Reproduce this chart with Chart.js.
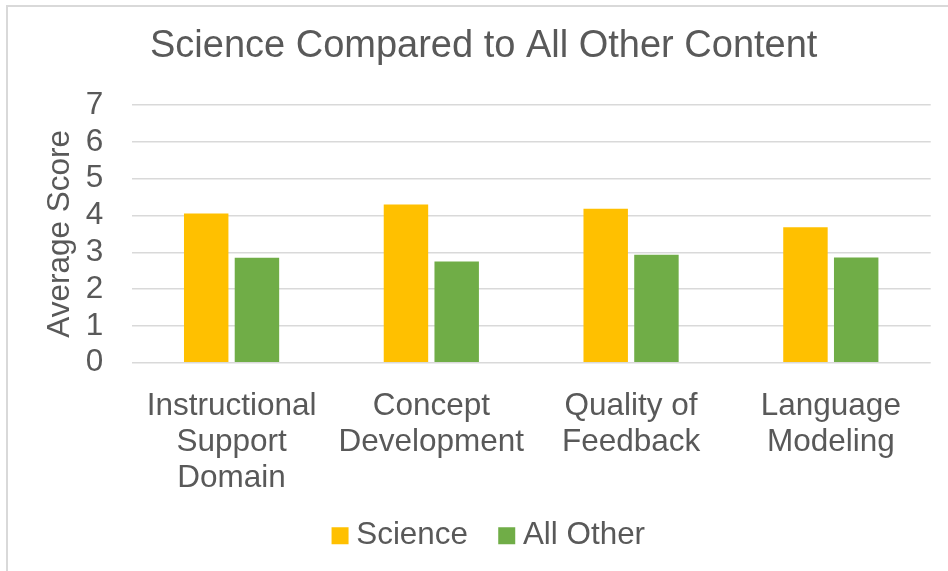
<!DOCTYPE html>
<html>
<head>
<meta charset="utf-8">
<title>Science Compared to All Other Content</title>
<script src="https://cdn.jsdelivr.net/npm/chart.js@4"></script>
<style>
  html, body { margin: 0; padding: 0; background: #fff; overflow: hidden; }
  #wrap { position: relative; width: 948px; height: 571px; }
  /* viền khung biểu đồ (chỉ thấy cạnh trái và cạnh trên) */
  #frame { position: absolute; left: 6px; top: 5px; width: 1000px; height: 1000px;
           border-left: 2px solid #d9d9d9; border-top: 2px solid #d9d9d9; }
  #chartBox { position: absolute; left: 0; top: 0; width: 948px; height: 571px; }
</style>
</head>
<body>
<div id="wrap">
  <div id="frame"></div>
  <div id="chartBox"><canvas id="scoreChart"></canvas></div>
</div>
<script>
// Dữ liệu
const categories = [
  ['Instructional', 'Support', 'Domain'],
  ['Concept', 'Development'],
  ['Quality of', 'Feedback'],
  ['Language', 'Modeling']
];
const scienceScores = [4.05, 4.30, 4.18, 3.68];
const allOtherScores = [2.85, 2.75, 2.93, 2.86];
const yTicks = [0, 1, 2, 3, 4, 5, 6, 7];

const textColor = '#595959';
const gridColor = '#d9d9d9';
const fontFamily = '"Liberation Sans", Arial, sans-serif';

// Dịch chú thích sang phải một chút cho khớp vị trí trong hình gốc
const legendNudge = {
  id: 'legendNudge',
  afterLayout(chart) {
    if (!chart.legend) return;
    chart.legend.left += 8.6;
    chart.legend.right += 8.6;
  }
};

const ctx = document.getElementById('scoreChart').getContext('2d');
new Chart(ctx, {
  type: 'bar',
  data: {
    labels: categories,
    datasets: [
      {
        label: 'Science',
        data: scienceScores,
        backgroundColor: '#FFC000',
        borderWidth: 0,
        categoryPercentage: 0.508,
        barPercentage: 0.876
      },
      {
        label: 'All Other',
        data: allOtherScores,
        backgroundColor: '#70AD47',
        borderWidth: 0,
        categoryPercentage: 0.508,
        barPercentage: 0.876
      }
    ]
  },
  plugins: [legendNudge],
  options: {
    responsive: true,
    maintainAspectRatio: false,
    animation: false,
    layout: { padding: { left: 36.7, right: 17.3, top: 0, bottom: 9.6 } },
    plugins: {
      title: {
        display: true,
        text: 'Science Compared to All Other Content',
        color: textColor,
        font: { family: fontFamily, size: 38, weight: 'normal', lineHeight: 1.2 },
        padding: { top: 23.3, bottom: 36.1 }
      },
      legend: {
        position: 'bottom',
        labels: {
          color: textColor,
          font: { family: fontFamily, size: 31.4 },
          usePointStyle: true,
          pointStyle: 'rect',
          boxWidth: 1,
          boxHeight: 17,
          padding: 38.3
        }
      },
      tooltip: { enabled: false }
    },
    scales: {
      x: {
        grid: { display: false, drawTicks: false },
        border: { display: false },
        ticks: {
          color: textColor,
          font: { family: fontFamily, size: 31.5, lineHeight: 1.143 },
          padding: 26,
          maxRotation: 0,
          autoSkip: false
        },
        afterFit: (scale) => { scale.height = 119; },
        // không cắt dòng nhãn thứ ba ("Domain") ở mép dưới trục
        afterUpdate: (scale) => { scale._computeLabelArea = () => undefined; }
      },
      y: {
        min: 0,
        max: 7,
        grid: { color: gridColor, lineWidth: 1.5, drawTicks: false },
        border: { display: false },
        afterBuildTicks: (scale) => { scale.ticks = yTicks.map(v => ({ value: v })); },
        ticks: {
          color: textColor,
          font: { family: fontFamily, size: 31.5 },
          padding: 28.4,
          autoSkip: false
        },
        title: {
          display: true,
          text: 'Average Score',
          color: textColor,
          font: { family: fontFamily, size: 31.5, lineHeight: 1.2 },
          padding: { top: 5.2, bottom: 0 }
        },
        afterFit: (scale) => { scale.width = 95; }
      }
    }
  }
});
</script>
</body>
</html>
